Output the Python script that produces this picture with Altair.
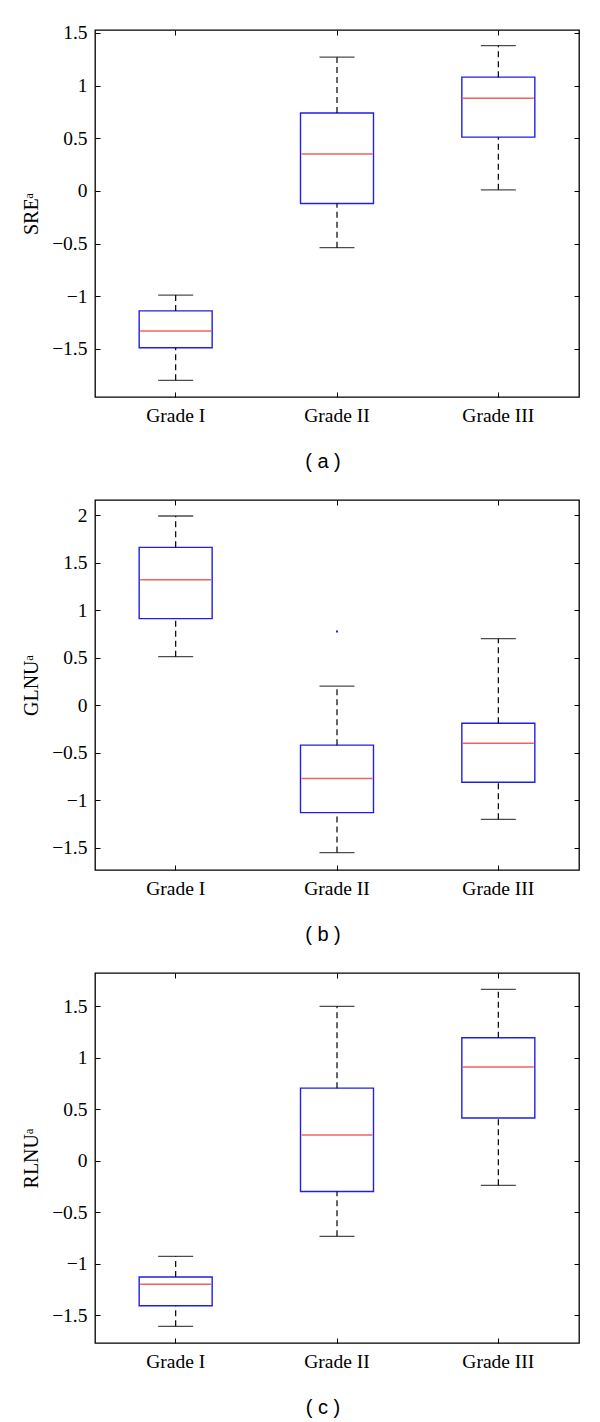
import altair as alt
import pandas as pd

grades = ["Grade I", "Grade II", "Grade III"]

# Panel (a) SRE
sre_lower = [-1.80, -0.54, 0.01]
sre_q1 = [-1.49, -0.12, 0.51]
sre_med = [-1.33, 0.35, 0.88]
sre_q3 = [-1.14, 0.74, 1.08]
sre_upper = [-0.99, 1.27, 1.38]
sre_domain = [-1.958, 1.528]
sre_ticks = [-1.5, -1, -0.5, 0, 0.5, 1, 1.5]

# Panel (b) GLNU
glnu_lower = [0.51, -1.55, -1.20]
glnu_q1 = [0.91, -1.13, -0.81]
glnu_med = [1.32, -0.77, -0.40]
glnu_q3 = [1.66, -0.42, -0.19]
glnu_upper = [1.99, 0.20, 0.70]
glnu_out_grade = ["Grade II"]
glnu_out_value = [0.775]
glnu_domain = [-1.733, 2.158]
glnu_ticks = [-1.5, -1, -0.5, 0, 0.5, 1, 1.5, 2]

# Panel (c) RLNU
rlnu_lower = [-1.61, -0.735, -0.24]
rlnu_q1 = [-1.41, -0.30, 0.415]
rlnu_med = [-1.20, 0.25, 0.91]
rlnu_q3 = [-1.13, 0.705, 1.195]
rlnu_upper = [-0.93, 1.50, 1.665]
rlnu_domain = [-1.772, 1.824]
rlnu_ticks = [-1.5, -1, -0.5, 0, 0.5, 1, 1.5]

SERIF = "Liberation Serif"
SANS = "Liberation Sans"
W = 484
BOX_W = 73
CAP_W = 35


def inner_axis(orient, values=None):
    kw = dict(orient=orient, title=None, labels=False, domain=False, grid=False,
              ticks=True, tickSize=5, tickColor="black", tickWidth=1, offset=-5)
    if values is not None:
        kw["values"] = values
    return alt.Axis(**kw)


def panel(letter, ytitle, lower, q1, med, q3, upper, ydomain, yticks, height,
          out_grade=None, out_value=None):
    df = pd.DataFrame({"grade": grades, "lower": lower, "q1": q1, "med": med,
                       "q3": q3, "upper": upper})
    base = alt.Chart(df)
    xs = alt.Scale(type="band", domain=grades, paddingInner=0, paddingOuter=0)
    ys = alt.Scale(domain=ydomain, nice=False, zero=False)

    x_lab = alt.Axis(orient="bottom", title=None, ticks=False, domain=False, grid=False,
                     labelAngle=0, labelFont=SERIF, labelFontSize=19.5, labelColor="black",
                     labelPadding=9)
    y_lab = alt.Axis(orient="left", title=ytitle, ticks=False, domain=False, grid=False,
                     values=yticks, format="~g", labelFont=SERIF, labelFontSize=19.5,
                     labelColor="black", labelPadding=8, titleFont=SERIF,
                     titleFontSize=20, titleFontWeight="normal", titleColor="black",
                     titlePadding=10)

    box = base.mark_bar(size=BOX_W, fill="white", stroke="#1f1fe6", strokeWidth=1.4).encode(
        x=alt.X("grade:N", scale=xs, axis=x_lab, sort=grades),
        y=alt.Y("q1:Q", scale=ys, axis=y_lab),
        y2="q3:Q",
    )
    wl = base.mark_rule(color="black", strokeWidth=1.2, strokeDash=[6, 4]).encode(
        x=alt.X("grade:N", scale=xs, axis=inner_axis("bottom"), sort=grades),
        y=alt.Y("lower:Q", scale=ys, axis=inner_axis("left", yticks)),
        y2="q1:Q",
    )
    wu = base.mark_rule(color="black", strokeWidth=1.2, strokeDash=[6, 4]).encode(
        x=alt.X("grade:N", scale=xs, axis=inner_axis("top"), sort=grades),
        y=alt.Y("q3:Q", scale=ys, axis=inner_axis("right", yticks)),
        y2="upper:Q",
    )
    cl = base.mark_tick(color="black", size=CAP_W, thickness=1.3).encode(
        x=alt.X("grade:N", scale=xs, axis=None, sort=grades),
        y=alt.Y("lower:Q", scale=ys, axis=None),
    )
    cu = base.mark_tick(color="black", size=CAP_W, thickness=1.3).encode(
        x=alt.X("grade:N", scale=xs, axis=None, sort=grades),
        y=alt.Y("upper:Q", scale=ys, axis=None),
    )
    md = base.mark_tick(color="#e82020", size=BOX_W - 2, thickness=1.5).encode(
        x=alt.X("grade:N", scale=xs, axis=None, sort=grades),
        y=alt.Y("med:Q", scale=ys, axis=None),
    )
    layers = [box, wl, wu, cl, cu, md]
    if out_grade:
        odf = pd.DataFrame({"grade": out_grade, "value": out_value})
        op = alt.Chart(odf).mark_square(color="#1f1fe6", size=4, opacity=1).encode(
            x=alt.X("grade:N", scale=xs, axis=None, sort=grades),
            y=alt.Y("value:Q", scale=ys, axis=None),
        )
        layers.append(op)
    return alt.layer(*layers).resolve_axis(x="independent", y="independent").properties(
        width=W, height=height,
        title=alt.TitleParams(f"( {letter} )", orient="bottom", font=SANS, fontSize=20,
                              fontWeight="normal", color="black", anchor="middle",
                              frame="group", dx=-14, offset=27),
    )


pa = panel("a", "SREᵃ", sre_lower, sre_q1, sre_med, sre_q3, sre_upper,
           sre_domain, sre_ticks, 367)
pb = panel("b", "GLNUᵃ", glnu_lower, glnu_q1, glnu_med, glnu_q3, glnu_upper,
           glnu_domain, glnu_ticks, 370, glnu_out_grade, glnu_out_value)
pc = panel("c", "RLNUᵃ", rlnu_lower, rlnu_q1, rlnu_med, rlnu_q3, rlnu_upper,
           rlnu_domain, rlnu_ticks, 370)

chart = alt.vconcat(pa, pb, pc, spacing=103, bounds="flush").configure_view(
    stroke="black", strokeWidth=1.3
).properties(padding={"left": 12, "top": 14, "right": 5, "bottom": 5})

chart.save("out.html", embed_options={"renderer": "svg", "actions": False})
